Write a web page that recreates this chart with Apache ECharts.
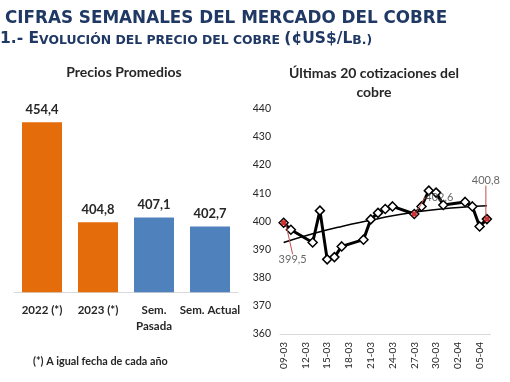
<!DOCTYPE html>
<html><head><meta charset="utf-8">
<script src="https://cdn.jsdelivr.net/npm/echarts@6/dist/echarts.min.js"></script>
<style>html,body{margin:0;padding:0;background:#fff}#c{width:510px;height:382px}</style>
</head><body><div id="c"></div>
<script>
// ---- Data ----
const barCats = ['2022 (*)', '2023 (*)', 'Sem.\nPasada', 'Sem. Actual'];
const barValues = [454.4, 404.8, 407.1, 402.7];

const axisDays = ['09-03','10-03','11-03','12-03','13-03','14-03','15-03','16-03','17-03','18-03','19-03','20-03','21-03','22-03','23-03','24-03','25-03','26-03','27-03','28-03','29-03','30-03','31-03','01-04','02-04','03-04','04-04','05-04','06-04'];

const quoteDates = ['09-03','10-03','13-03','14-03','15-03','16-03','17-03','20-03','21-03','22-03','23-03','24-03','27-03','28-03','29-03','30-03','31-03','03-04','04-04','05-04','06-04'];
const quoteValues = [399.5, 397.0, 392.5, 403.8, 386.5, 387.3, 391.1, 393.5, 400.7, 403.0, 404.4, 405.3, 402.6, 405.3, 410.9, 410.2, 405.8, 406.9, 405.3, 398.2, 400.8];

const trendDates = ['09-03','13-03','17-03','21-03','24-03','27-03','31-03','03-04','06-04'];
const trendValues = [392.5, 395.6, 398.2, 400.4, 402.0, 403.2, 404.5, 405.1, 405.5];

const labeledDates = ['09-03', '27-03', '06-04'];
const labeledValues = [399.5, 402.6, 400.8];

// ---- Styles ----
const barColors = ['#E46C0A', '#E46C0A', '#4F81BD', '#4F81BD'];
const labelOffsets = [[9, 37], [25, -17], [-1, -39]];
const TXT = '#262626';
const NAVY = '#1F3864';
const fmt = v => v.toFixed(1).replace('.', ',');

const chart = echarts.init(document.getElementById('c'), null, {renderer: 'canvas'});
chart.setOption({
  animation: false,
  backgroundColor: '#fff',
  graphic: [
    {type: 'text', x: 5, y: 18.5, style: {text: 'CIFRAS SEMANALES DEL MERCADO DEL COBRE', fill: NAVY,
      font: 'bold 16.8px "DejaVu Sans"', textAlign: 'left', textVerticalAlign: 'middle'}},
    {type: 'text', x: 0, y: 38.5, style: {
      text: '{a|1.- E}{b|VOLUCIÓN DEL PRECIO DEL COBRE }{a|(¢US$/L}{b|B.)}',
      textAlign: 'left', textVerticalAlign: 'middle',
      rich: {
        a: {fontFamily: 'DejaVu Sans', fontWeight: 'bold', fontSize: 15.5, fill: NAVY, verticalAlign: 'bottom'},
        b: {fontFamily: 'DejaVu Sans', fontWeight: 'bold', fontSize: 12.4, fill: NAVY, verticalAlign: 'bottom'}
      }}},
    {type: 'text', x: 124, y: 72, style: {text: 'Precios Promedios', fill: TXT,
      font: 'bold 14px Lato', textAlign: 'center', textVerticalAlign: 'middle'}},
    {type: 'text', x: 374, y: 73, style: {text: 'Últimas 20 cotizaciones del', fill: TXT,
      font: 'bold 14px Lato', textAlign: 'center', textVerticalAlign: 'middle'}},
    {type: 'text', x: 374, y: 92.5, style: {text: 'cobre', fill: TXT,
      font: 'bold 14px Lato', textAlign: 'center', textVerticalAlign: 'middle'}},
    {type: 'text', x: 33, y: 361.5, style: {text: '(*) A igual fecha de cada año', fill: TXT,
      font: 'bold 10.8px Lato', textAlign: 'left', textVerticalAlign: 'middle'}}
  ],
  grid: [
    {left: 14, width: 224, top: 111, height: 181.3},
    {left: 280, width: 210.5, top: 108.7, height: 225.3}
  ],
  xAxis: [
    {gridIndex: 0, type: 'category', data: barCats,
      axisLine: {lineStyle: {color: '#D9D9D9'}}, axisTick: {show: false},
      axisLabel: {interval: 0, color: TXT, fontFamily: 'Lato', fontWeight: 'bold', fontSize: 11.5, lineHeight: 16, margin: 10}},
    {gridIndex: 1, type: 'category', data: axisDays, boundaryGap: true,
      axisLine: {lineStyle: {color: '#D9D9D9'}}, axisTick: {show: false},
      axisLabel: {interval: 2, rotate: 90, color: TXT, fontFamily: 'Lato', fontSize: 10, margin: 8}}
  ],
  yAxis: [
    {gridIndex: 0, type: 'value', min: 370, max: 460, show: false},
    {gridIndex: 1, type: 'value', min: 360, max: 440, interval: 10,
      splitLine: {show: false}, axisLine: {show: false}, axisTick: {show: false},
      axisLabel: {color: TXT, fontFamily: 'Lato', fontSize: 10.5, margin: 9}}
  ],
  series: [
    {type: 'bar', xAxisIndex: 0, yAxisIndex: 0, barWidth: 40,
      data: barValues.map((v, i) => ({value: v, itemStyle: {color: barColors[i]}})),
      label: {show: true, position: 'top', distance: 6, color: TXT, fontFamily: 'Lato', fontWeight: 'bold', fontSize: 13,
        formatter: p => fmt(p.value)}},
    {type: 'line', xAxisIndex: 1, yAxisIndex: 1, smooth: true, showSymbol: false, symbol: 'none',
      data: trendDates.map((d, i) => [d, trendValues[i]]),
      lineStyle: {color: '#000', width: 1.5}, z: 2, silent: true},
    {type: 'line', xAxisIndex: 1, yAxisIndex: 1,
      data: quoteDates.map((d, i) => [d, quoteValues[i]]),
      symbol: 'diamond', symbolSize: 9, showSymbol: true, showAllSymbol: true,
      itemStyle: {color: '#fff', borderColor: '#000', borderWidth: 1.5},
      lineStyle: {color: '#000', width: 3}, z: 3, silent: true},
    {type: 'scatter', xAxisIndex: 1, yAxisIndex: 1,
      data: labeledDates.map((d, i) => ({value: [d, labeledValues[i]], symbol: 'rect', symbolSize: 5})),
      symbol: 'rect', symbolSize: 5, itemStyle: {color: '#C00000'}, z: 5, silent: true,
      label: {show: true, position: 'inside', color: '#404040', fontFamily: 'Lato', fontSize: 11,
        formatter: p => fmt(p.value[1])},
      labelLayout: p => ({dx: labelOffsets[p.dataIndex][0], dy: labelOffsets[p.dataIndex][1]}),
      labelLine: {show: true, lineStyle: {color: '#C0504D', width: 1}}}
  ]
});
</script></body></html>
